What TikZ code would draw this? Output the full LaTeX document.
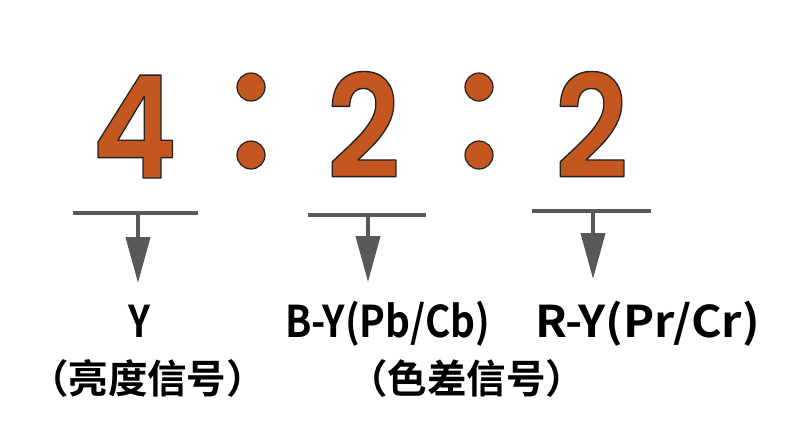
\documentclass[tikz,border=0pt]{standalone}
\usepackage{fontspec}
\usepackage{graphicx}
\usetikzlibrary{arrows.meta}
\IfFontExistsTF{Poppins SemiBold}{\newfontfamily\digitfont{Poppins SemiBold}}{\newfontfamily\digitfont{Poppins}}
\newfontfamily\cjkfont{Noto Sans CJK SC}[BoldFont={Noto Sans CJK SC Bold}]
\definecolor{digit}{HTML}{C4561F}
\definecolor{edge}{HTML}{222222}
\definecolor{bargray}{HTML}{585858}
\newcommand\outlineddigit[1]{\scalebox{0.9}[1]{\color{digit}\special{pdf:literal direct 2 Tr 1.4 w 1 j 0.133 0.133 0.133 RG}#1\special{pdf:literal direct 0 Tr}}}
\tikzset{
  digitnode/.style={anchor=base, inner sep=0pt, font=\digitfont\fontsize{143}{143}\selectfont},
  dot/.style={circle, fill=digit, draw=edge, line width=1.2pt, minimum size=28pt, inner sep=0pt},
  bar/.style={draw=bargray, line width=4pt},
  arr/.style={draw=bargray, line width=4pt, -{Triangle[length=46pt,width=24pt]}},
  latin/.style={anchor=base, inner sep=0pt, font=\cjkfont\bfseries\fontsize{43.7}{44}\selectfont},
  cjk/.style={anchor=center, inner sep=0pt, font=\cjkfont\bfseries\fontsize{39.5}{40}\selectfont},
}
\begin{document}
\begin{tikzpicture}[x=1pt,y=-1pt]
\useasboundingbox (0,0) rectangle (790,424);
% digits
\node[digitnode] (d1) at (134.5,178) {\outlineddigit{4}};
\node[digitnode] (d2) at (363.5,178) {\outlineddigit{2}};
\node[digitnode] (d3) at (591.5,178) {\outlineddigit{2}};
% colons
\node[dot] (c1a) at (251,87) {};
\node[dot] (c1b) at (251,155) {};
\node[dot] (c2a) at (479,87) {};
\node[dot] (c2b) at (479,155) {};
% bars and arrows
\coordinate (b1l) at (73,213); \coordinate (b1r) at (198,213);
\coordinate (s1) at (138,213); \coordinate (t1) at (138,283);
\coordinate (b2l) at (308,215); \coordinate (b2r) at (426,215);
\coordinate (s2) at (368,215); \coordinate (t2) at (368,282);
\coordinate (b3l) at (532,211); \coordinate (b3r) at (651,211);
\coordinate (s3) at (593,211); \coordinate (t3) at (593,279);
\draw[bar] (b1l) -- (b1r);
\draw[bar] (b2l) -- (b2r);
\draw[bar] (b3l) -- (b3r);
\draw[arr] (s1) -- (t1);
\draw[arr] (s2) -- (t2);
\draw[arr] (s3) -- (t3);
% labels
\node[latin] (y) at (139,337) {\resizebox{22pt}{\height}{Y}};
\node[latin] (by) at (387.5,337) {\resizebox{205pt}{\height}{B-Y(Pb/Cb)}};
\node[latin] (ry) at (647.5,337) {\resizebox{225pt}{\height}{R-Y(Pr/Cr)}};
\node[cjk] (ly) at (147.5,378.5) {（亮度信号）};
\node[cjk] (lc) at (466.5,378.5) {（色差信号）};
\end{tikzpicture}
\end{document}
